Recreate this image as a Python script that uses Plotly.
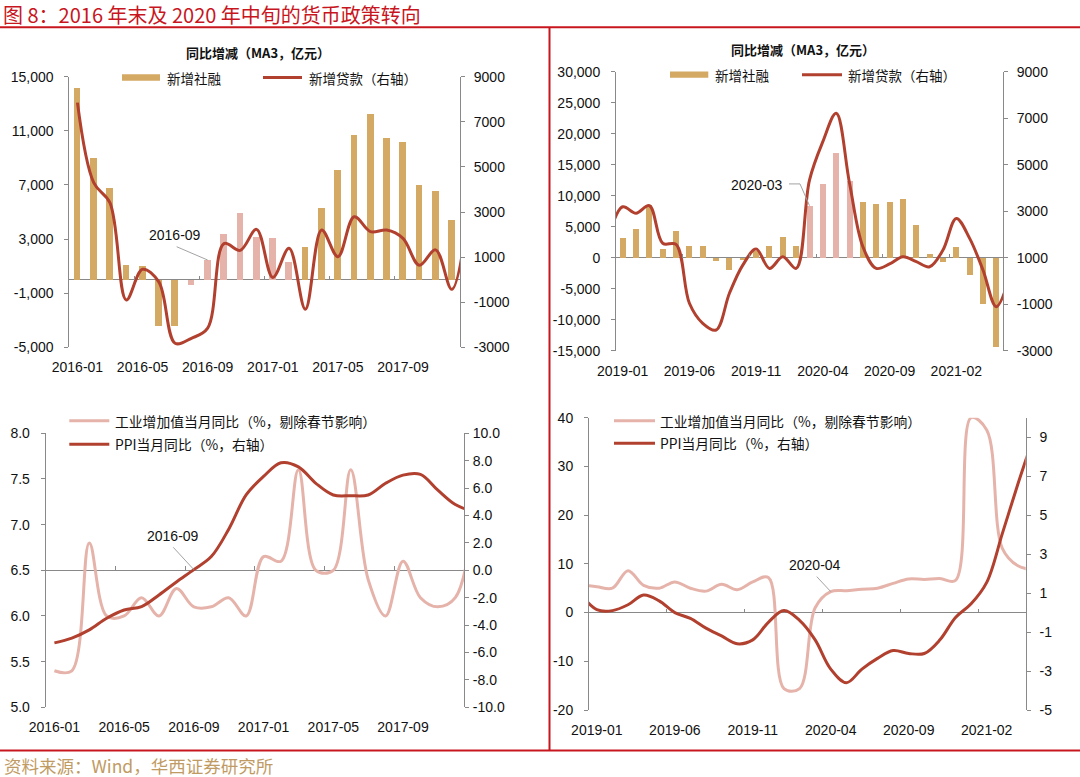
import plotly.graph_objects as go

W, H = 1080, 777

# ----------------------------- data -----------------------------
# Panel 1 (2016-2017): bars = 新增社融 同比增减, line = 新增贷款 同比增减 (right axis)
months_p1_bar = ["2016-01", "2016-02", "2016-03", "2016-04", "2016-05", "2016-06",
                 "2016-07", "2016-08", "2016-09", "2016-10", "2016-11", "2016-12",
                 "2017-01", "2017-02", "2017-03", "2017-04", "2017-05", "2017-06",
                 "2017-07", "2017-08", "2017-09", "2017-10", "2017-11", "2017-12"]
months_p1_line = months_p1_bar + ["2018-01"]
tsf_p1 = [14200, 9000, 6800, 1100, 1000, -3400, -3400, -400, 1450, 3400, 4950, 3200,
          3100, 1300, 2400, 5300, 8100, 10700, 12300, 10500, 10200, 7000, 6600, 4400]
loan_p1 = [7850, 4300, 3400, -900, 460, -100, -2820, -2600, -2150, 1600, 1300, 2230,
           100, 1390, -1310, 2200, 1020, 2790, 2130, 2200, 1830, 640, 1320, -430, 3000]
highlight_p1 = ["2016-08", "2016-09", "2016-10", "2016-11", "2016-12", "2017-01", "2017-02"]
xlabels_p1 = ["2016-01", "2016-05", "2016-09", "2017-01", "2017-05", "2017-09"]

# Panel 2 (2019-2021)
months_p2_bar = ["2019-01", "2019-02", "2019-03", "2019-04", "2019-05", "2019-06",
                 "2019-07", "2019-08", "2019-09", "2019-10", "2019-11", "2019-12",
                 "2020-01", "2020-02", "2020-03", "2020-04", "2020-05", "2020-06",
                 "2020-07", "2020-08", "2020-09", "2020-10", "2020-11", "2020-12",
                 "2021-01", "2021-02", "2021-03", "2021-04", "2021-05"]
months_p2_line = ["2018-12"] + months_p2_bar + ["2021-06"]
tsf_p2 = [3300, 4700, 8500, 1500, 4300, 2000, 2000, -500, -1900, -400, 1200, 1900,
          3400, 1900, 8400, 11900, 17000, 12500, 9000, 8700, 9100, 9500, 5400, 600,
          -700, 1700, -2800, -7400, -14300]
loan_p2 = [2000, 3190, 2910, 3240, 1620, 1570, -960, -1820, -2110, -530, 680, 1370,
           540, 1040, 540, 4340, 5990, 7210, 4200, 1470, 540, 730, 1040, 830, 610,
           1330, 2690, 1830, 470, -1110, 200]
highlight_p2 = ["2020-03", "2020-04", "2020-05", "2020-06"]
xlabels_p2 = ["2019-01", "2019-06", "2019-11", "2020-04", "2020-09", "2021-02"]

# Panel 3 (2016-2017): 工业增加值当月同比 (left), PPI 当月同比 (right)
months_p3 = months_p1_bar
months_p3_line = months_p1_line
iva_p3 = [5.4, 5.4, 6.8, 6.0, 6.0, 6.2, 6.0, 6.3, 6.1, 6.1, 6.2, 6.0,
          6.65, 6.6, 7.6, 6.5, 6.5, 7.6, 6.4, 6.0, 6.6, 6.2, 6.1, 6.2, 7.0]
ppi_p3 = [-5.3, -4.95, -4.35, -3.5, -2.9, -2.65, -1.8, -0.85, 0.05, 1.0, 3.0, 5.5,
          6.85, 7.85, 7.55, 6.35, 5.5, 5.45, 5.5, 6.35, 6.95, 7.0, 5.85, 4.8, 4.3]

# Panel 4 (2019-2021)
months_p4 = months_p2_bar[:-1]
months_p4_line = ["2018-12"] + months_p4 + ["2021-05"]
iva_p4 = [5.7, 5.3, 5.0, 8.6, 5.6, 5.0, 6.3, 5.0, 4.4, 5.8, 4.7, 6.3, 7.2,
          -15.6, -15.6, 1.0, 4.3, 4.5, 4.8, 5.0, 6.0, 6.9, 6.8, 7.0, 6.6,
          40.0, 37.5, 13.2, 9.6, 8.8]
ppi_p4 = [0.9, 0.15, 0.1, 0.4, 0.9, 0.6, 0.0, -0.3, -0.8, -1.2, -1.6, -1.4, -0.5,
          0.1, -0.4, -1.4, -2.9, -3.6, -2.9, -2.35, -1.95, -2.1, -2.1, -1.4, -0.25,
          0.45, 1.55, 4.05, 6.6, 9.0]

# axis ticks
yl_p1 = [-5000, -1000, 3000, 7000, 11000, 15000]
yr_p1 = [-3000, -1000, 1000, 3000, 5000, 7000, 9000]
yl_p2 = [-15000, -10000, -5000, 0, 5000, 10000, 15000, 20000, 25000, 30000]
yr_p2 = [-3000, -1000, 1000, 3000, 5000, 7000, 9000]
yl_p3 = [5.0, 5.5, 6.0, 6.5, 7.0, 7.5, 8.0]
yr_p3 = [-10, -8, -6, -4, -2, 0, 2, 4, 6, 8, 10]
yl_p4 = [-20, -10, 0, 10, 20, 30, 40]
yr_p4 = [-5, -3, -1, 1, 3, 5, 7, 9]

# ----------------------------- style -----------------------------
TAN = "#D4A964"
PINK = "#E5B3AA"
DARK = "#B1402F"
GRAY = "#898989"
RED = "#C8161E"
NUM = "Liberation Sans, Arial, sans-serif"
CJK = "Noto Sans CJK SC, sans-serif"
TICKFONT = dict(family=NUM, size=14, color="#111")


def px_x(a, b):
    return [a / W, b / W]


def px_y(top, bottom):
    return [1 - bottom / H, 1 - top / H]


def fmt_comma(v):
    s = f"{abs(v):,}"
    return ("-" + s) if v < 0 else s


def fmt_plain(v, nd=0):
    s = f"{abs(v):.{nd}f}"
    return ("-" + s) if v < 0 else s


dom = {
    1: (px_x(69.3, 460), px_y(76.7, 347.3)),
    2: (px_x(616, 1003), px_y(71.7, 350.7)),
    3: (px_x(45.7, 464), px_y(433.3, 707.3)),
    4: (px_x(589, 1025.7), px_y(417.7, 710)),
}

fig = go.Figure()

# panel 1
fig.add_trace(go.Bar(x=months_p1_bar, y=tsf_p1, width=0.41,
                     marker=dict(color=[PINK if m in highlight_p1 else TAN for m in months_p1_bar], line_width=0),
                     xaxis="x", yaxis="y", showlegend=False, name="新增社融"))
fig.add_trace(go.Scatter(x=months_p1_line, y=loan_p1, mode="lines",
                         line=dict(color=DARK, width=3, shape="spline", smoothing=1),
                         xaxis="x", yaxis="y5", showlegend=False, name="新增贷款（右轴）"))
# panel 2
fig.add_trace(go.Bar(x=months_p2_bar, y=tsf_p2, width=0.45,
                     marker=dict(color=[PINK if m in highlight_p2 else TAN for m in months_p2_bar], line_width=0),
                     xaxis="x2", yaxis="y2", showlegend=False, name="新增社融"))
fig.add_trace(go.Scatter(x=months_p2_line, y=loan_p2, mode="lines",
                         line=dict(color=DARK, width=3, shape="spline", smoothing=1),
                         xaxis="x2", yaxis="y6", showlegend=False, name="新增贷款（右轴）"))
# panel 3
fig.add_trace(go.Scatter(x=months_p3_line, y=iva_p3, mode="lines",
                         line=dict(color=PINK, width=3, shape="spline", smoothing=1),
                         xaxis="x3", yaxis="y3", showlegend=False, name="工业增加值"))
fig.add_trace(go.Scatter(x=months_p3_line, y=ppi_p3, mode="lines",
                         line=dict(color=DARK, width=3, shape="spline", smoothing=1),
                         xaxis="x3", yaxis="y7", showlegend=False, name="PPI"))
# panel 4
fig.add_trace(go.Scatter(x=months_p4_line, y=iva_p4, mode="lines",
                         line=dict(color=PINK, width=3, shape="spline", smoothing=1),
                         xaxis="x4", yaxis="y4", showlegend=False, name="工业增加值"))
fig.add_trace(go.Scatter(x=months_p4_line, y=ppi_p4, mode="lines",
                         line=dict(color=DARK, width=3, shape="spline", smoothing=1),
                         xaxis="x4", yaxis="y8", showlegend=False, name="PPI"))


def xcat(domain, cats_all, first, last, labels, anchor):
    i0, i1 = cats_all.index(first), cats_all.index(last)
    return dict(domain=domain, type="category", categoryorder="array", categoryarray=cats_all,
                range=[i0 - 0.5, i1 + 0.5], tickmode="array", tickvals=labels, ticktext=labels,
                showline=False, showgrid=False, zeroline=False, ticks="outside", ticklen=7,
                tickcolor="rgba(0,0,0,0)", tickfont=TICKFONT, anchor=anchor, fixedrange=True,
                automargin=False)


def yax(domain, rng, vals, texts, side, anchor, overlay=None, zero=False, standoff=8):
    d = dict(range=rng, tickmode="array", tickvals=vals, ticktext=texts, showline=True,
             linecolor=GRAY, linewidth=1, ticks="outside", ticklen=4, tickcolor=GRAY,
             showgrid=False, zeroline=zero, zerolinecolor=GRAY, zerolinewidth=1,
             tickfont=TICKFONT, anchor=anchor, side=side, fixedrange=True,
             ticklabelstandoff=standoff, automargin=False)
    if overlay:
        d["overlaying"] = overlay
    else:
        d["domain"] = domain
    return d


ranges = {1: ([-5000, 15000], [-3000, 9000]), 2: ([-15000, 30000], [-3000, 9000]),
          3: ([5, 8], [-10, 10]), 4: ([-20, 40], [-5, 10])}

layout_axes = {}
layout_axes["xaxis"] = xcat(dom[1][0], months_p1_line, months_p1_bar[0], months_p1_bar[-1], xlabels_p1, "y")
layout_axes["xaxis2"] = xcat(dom[2][0], months_p2_line, months_p2_bar[0], months_p2_bar[-1], xlabels_p2, "y2")
layout_axes["xaxis3"] = xcat(dom[3][0], months_p3_line, months_p3[0], months_p3[-1], xlabels_p1, "y3")
layout_axes["xaxis4"] = xcat(dom[4][0], months_p4_line, months_p4[0], months_p4[-1], xlabels_p2, "y4")

layout_axes["yaxis"] = yax(dom[1][1], ranges[1][0], yl_p1, [fmt_comma(v) for v in yl_p1], "left", "x", zero=True)
layout_axes["yaxis5"] = yax(None, ranges[1][1], yr_p1, [fmt_plain(v) for v in yr_p1], "right", "x", overlay="y", standoff=6)
layout_axes["yaxis2"] = yax(dom[2][1], ranges[2][0], yl_p2, [fmt_comma(v) for v in yl_p2], "left", "x2", zero=True)
layout_axes["yaxis6"] = yax(None, ranges[2][1], yr_p2, [fmt_plain(v) for v in yr_p2], "right", "x2", overlay="y2", standoff=6)
layout_axes["yaxis3"] = yax(dom[3][1], ranges[3][0], yl_p3, [fmt_plain(v, 1) for v in yl_p3], "left", "x3")
layout_axes["yaxis7"] = yax(None, ranges[3][1], yr_p3, [fmt_plain(v, 1) for v in yr_p3], "right", "x3", overlay="y3", zero=True, standoff=1)
layout_axes["yaxis4"] = yax(dom[4][1], ranges[4][0], yl_p4, [fmt_plain(v) for v in yl_p4], "left", "x4", zero=True)
layout_axes["yaxis8"] = yax(None, ranges[4][1], yr_p4, [fmt_plain(v) for v in yr_p4], "right", "x4", overlay="y4", standoff=6)


# small category-boundary tick marks sitting on the zero line
def zero_pos(panel, which):
    lo, hi = ranges[panel][which]
    d0, d1 = dom[panel][1]
    return d0 + (0 - lo) / (hi - lo) * (d1 - d0)


tick_specs = [(5, "x", 1, 0, months_p1_line, months_p1_bar, xlabels_p1, "y"),
              (6, "x2", 2, 0, months_p2_line, months_p2_bar, xlabels_p2, "y2"),
              (7, "x3", 3, 1, months_p3_line, months_p3, xlabels_p1, "y3"),
              (8, "x4", 4, 0, months_p4_line, months_p4, xlabels_p2, "y4")]
for n, base, panel, which, allm, shown, labs, ya in tick_specs:
    i0, i1 = allm.index(shown[0]), allm.index(shown[-1])
    tv = [allm.index(l) - 0.5 for l in labs[1:]]
    layout_axes[f"xaxis{n}"] = dict(type="linear", overlaying=base, anchor="free",
                                    position=zero_pos(panel, which), range=[i0 - 0.5, i1 + 0.5],
                                    tickmode="array", tickvals=tv, ticks="inside", ticklen=4,
                                    tickcolor=GRAY, showticklabels=False, showline=False,
                                    showgrid=False, zeroline=False, fixedrange=True,
                                    automargin=False)
    fig.add_trace(go.Scatter(x=[], y=[], xaxis=f"x{n}", yaxis=ya, showlegend=False, hoverinfo="skip"))

fig.update_layout(**layout_axes)

# ----------------------------- texts / decorations -----------------------------
ann = []
shapes = []


def text(x, y, s, size=13.5, color="#111", family=CJK, xanchor="left", bold=False):
    ann.append(dict(x=x / W, y=1 - y / H, xref="paper", yref="paper", text=(f"<b>{s}</b>" if bold else s),
                    showarrow=False, xanchor=xanchor, yanchor="middle",
                    font=dict(family=family, size=size, color=color)))


def hline(x0, x1, y, color, width):
    shapes.append(dict(type="line", xref="paper", yref="paper", x0=x0 / W, x1=x1 / W,
                       y0=1 - y / H, y1=1 - y / H, line=dict(color=color, width=width)))


def rect(x0, x1, y0, y1, color):
    shapes.append(dict(type="rect", xref="paper", yref="paper", x0=x0 / W, x1=x1 / W,
                       y0=1 - y1 / H, y1=1 - y0 / H, fillcolor=color, line_width=0))


# figure title & frame
text(1, 14, "图 8：2016 年末及 2020 年中旬的货币政策转向", size=20, color=RED)
hline(0, W, 27.3, RED, 2)
hline(0, W, 750.5, RED, 2)
shapes.append(dict(type="line", xref="paper", yref="paper", x0=549.5 / W, x1=549.5 / W,
                   y0=1 - 750.5 / H, y1=1 - 27.3 / H, line=dict(color=RED, width=2)))
text(2, 765, "资料来源：Wind，华西证券研究所", size=17.5, color="#BF9B63")

# panel titles
text(258, 53, "同比增减（MA3，亿元）", size=13, xanchor="center", bold=True)
text(803, 49, "同比增减（MA3，亿元）", size=13, xanchor="center", bold=True)

# legends (top)
rect(122, 160, 74.3, 80.7, TAN)
text(165, 77.5, "新增社融")
hline(263, 302, 77.5, DARK, 3)
text(307, 77.5, "新增贷款（右轴）")
rect(670, 708.3, 71.6, 77.8, TAN)
text(713, 74.7, "新增社融")
hline(802, 842, 74.7, DARK, 3)
text(846, 74.7, "新增贷款（右轴）")
# legends (bottom)
hline(69.3, 109.3, 420.7, PINK, 3)
text(113, 420.7, "工业增加值当月同比（%，剔除春节影响）", size=13.8)
hline(69.3, 109.3, 444.3, DARK, 3)
text(113, 444.3, "PPI当月同比（%，右轴）", size=13.8)
hline(614, 655, 420.7, PINK, 3)
text(658, 420.7, "工业增加值当月同比（%，剔除春节影响）", size=13.8)
hline(614, 655, 443.3, DARK, 3)
text(658, 443.3, "PPI当月同比（%，右轴）", size=13.8)


# callouts: a label offset from a data point plus a connector drawn in pixel offsets
def callout(xref, yref, xv, yv, label, dx, dy, path):
    ann.append(dict(x=xv, y=yv, xref=xref, yref=yref, text=label, showarrow=False,
                    xshift=dx, yshift=dy, xanchor="center", yanchor="middle",
                    font=dict(family=NUM, size=14, color="#111")))
    shapes.append(dict(type="path", xref=xref, yref=yref, xsizemode="pixel", ysizemode="pixel",
                       xanchor=xv, yanchor=yv, path=path, line=dict(color="#A3A3A3", width=1)))


callout("x", "y", "2016-09", tsf_p1[months_p1_bar.index("2016-09")], "2016-09",
        -32.5, 25, "M-31,13.3 L0,0")
callout("x2", "y2", "2020-03", tsf_p2[months_p2_bar.index("2020-03")], "2020-03",
        -52.5, 20.7, "M-20.5,21.7 L-9.5,21.7 L0,0")
callout("x3", "y7", "2016-09", ppi_p3[months_p3_line.index("2016-09")], "2016-09",
        -21, 34, "M-20.6,22.3 L0,0")
callout("x4", "y4", "2020-04", iva_p4[months_p4_line.index("2020-04")], "2020-04",
        -16, 27, "M-14,15 L0,0")

fig.update_layout(template="none", annotations=ann, shapes=shapes, width=W, height=H,
                  margin=dict(l=0, r=0, t=0, b=0, autoexpand=False), paper_bgcolor="white",
                  plot_bgcolor="rgba(0,0,0,0)", showlegend=False, bargap=0, font=dict(family=NUM))

fig.write_html("out.html", config={"displayModeBar": False},
               post_script="document.body.style.margin='0';document.body.style.overflow='hidden';")
